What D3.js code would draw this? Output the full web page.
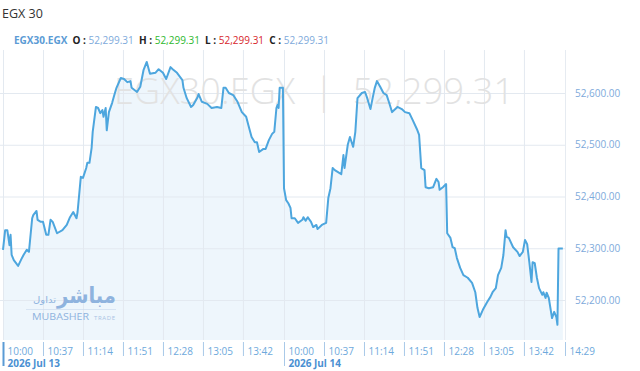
<!DOCTYPE html>
<html>
<head>
<meta charset="utf-8">
<script src="https://cdn.jsdelivr.net/npm/d3@7"></script>
<style>
  html, body { margin: 0; padding: 0; background: #fff; }
  svg { display: block; font-family: "Open Sans", "Noto Sans", sans-serif; }
</style>
</head>
<body>
<svg id="chart" width="640" height="371"></svg>
<script>
// index chart EGX30 - two sessions, x is a session slot (minute index), 260 slots per day
const symbol = 'EGX30.EGX';
const title = 'EGX 30';
const lastValue = 52299.31;
const dayLabels = ['2026 Jul 13', '2026 Jul 14'];
const timeLabels = ['10:00', '10:37', '11:14', '11:51', '12:28', '13:05', '13:42'];
const timeSlots = [0, 37, 74, 111, 148, 185, 222];
const endLabel = '14:29';
const slotsPerDay = 260;
const yTicks = [52200, 52300, 52400, 52500, 52600];

const day1Slots = [0, 2, 4, 6, 7, 8, 10, 14, 17, 19, 22, 24, 27, 28, 31, 32, 35, 37, 40, 42, 44, 46, 50, 55, 59, 62, 65, 68, 69, 72, 74, 77, 78, 80, 82, 83, 86, 88, 90, 92, 93, 95, 96, 98, 101, 103, 105, 109, 112, 115, 118, 119, 124, 127, 130, 133, 136, 141, 144, 148, 151, 155, 157, 161, 166, 167, 170, 174, 176, 180, 181, 184, 189, 193, 198, 202, 204, 206, 209, 213, 217, 221, 225, 227, 230, 233, 235, 237, 241, 243, 246, 249, 251, 253, 254, 255, 256, 259];
const day1Values = [52297, 52335, 52335, 52306, 52326, 52287, 52277, 52266, 52279, 52287, 52297, 52293, 52358, 52364, 52372, 52355, 52351, 52351, 52326, 52326, 52355, 52351, 52329, 52335, 52345, 52360, 52370, 52358, 52370, 52438, 52436, 52455, 52465, 52465, 52494, 52525, 52573, 52571, 52561, 52567, 52554, 52571, 52528, 52563, 52581, 52596, 52610, 52629, 52627, 52621, 52623, 52610, 52602, 52612, 52644, 52660, 52637, 52639, 52646, 52639, 52627, 52650, 52646, 52639, 52625, 52610, 52590, 52573, 52577, 52592, 52598, 52583, 52579, 52571, 52573, 52571, 52610, 52610, 52600, 52596, 52583, 52563, 52554, 52538, 52515, 52505, 52505, 52486, 52492, 52492, 52509, 52521, 52525, 52571, 52577, 52571, 52610, 52610];

const day2Slots = [0, 2, 4, 6, 7, 10, 13, 17, 18, 20, 22, 25, 27, 30, 31, 35, 39, 41, 43, 45, 47, 50, 53, 55, 56, 59, 61, 64, 66, 68, 72, 75, 77, 80, 82, 84, 86, 89, 92, 95, 97, 100, 102, 105, 109, 112, 116, 119, 123, 125, 127, 130, 131, 134, 138, 141, 143, 144, 147, 150, 151, 154, 156, 158, 160, 163, 166, 170, 174, 177, 179, 181, 184, 188, 191, 193, 196, 198, 201, 203, 205, 206, 208, 212, 216, 218, 221, 223, 225, 227, 229, 230, 232, 234, 236, 239, 240, 242, 243, 245, 248, 250, 252, 253, 254, 258];
const day2Values = [52416, 52393, 52387, 52378, 52358, 52358, 52349, 52355, 52360, 52353, 52360, 52351, 52341, 52345, 52337, 52345, 52349, 52397, 52416, 52455, 52451, 52447, 52443, 52480, 52455, 52500, 52515, 52496, 52525, 52590, 52600, 52602, 52590, 52569, 52590, 52610, 52623, 52612, 52600, 52596, 52583, 52563, 52567, 52573, 52569, 52563, 52561, 52548, 52530, 52519, 52455, 52451, 52418, 52416, 52418, 52434, 52428, 52413, 52418, 52424, 52329, 52320, 52302, 52300, 52281, 52262, 52248, 52243, 52233, 52215, 52185, 52167, 52181, 52196, 52206, 52215, 52223, 52248, 52262, 52287, 52335, 52322, 52320, 52302, 52293, 52285, 52293, 52316, 52308, 52273, 52235, 52273, 52271, 52243, 52223, 52210, 52215, 52204, 52214, 52204, 52165, 52177, 52167, 52152, 52299.31, 52299.31];

const points = [
  ...day1Slots.map((s, i) => ({ slot: s, value: day1Values[i] })),
  ...day2Slots.map((s, i) => ({ slot: slotsPerDay + s, value: day2Values[i] })),
];

const plot = { left: 3, right: 565, top: 50, bottom: 340 };

const svg = d3.select('#chart');
const fmt = d3.format(',.2f');

const xScale = d3.scaleLinear().domain([0, slotsPerDay * 2]).range([plot.left, plot.right]);
const yScale = d3.scaleLinear().domain([52200, 52600]).range([300, 93]);

// area fill
const area = d3.area()
  .x((d) => xScale(d.slot))
  .y0(plot.bottom)
  .y1((d) => yScale(d.value));
svg.append('path').datum(points)
  .attr('d', area)
  .attr('fill', '#eef6fc');

// tick slots over both days
const allTicks = [];
dayLabels.forEach((day, di) => {
  timeSlots.forEach((s, i) => {
    allTicks.push({ slot: di * slotsPerDay + s, label: timeLabels[i], day: i === 0 ? day : null });
  });
});
allTicks.push({ slot: slotsPerDay * 2, label: endLabel, day: null });

// vertical gridlines
svg.append('g')
  .selectAll('line')
  .data(allTicks)
  .join('line')
  .attr('x1', (d) => xScale(d.slot) + 0.5)
  .attr('x2', (d) => xScale(d.slot) + 0.5)
  .attr('y1', plot.top)
  .attr('y2', plot.bottom)
  .attr('stroke', '#e3e9f0')
  .attr('stroke-width', 1);

// horizontal gridlines
svg.append('g')
  .attr('transform', `translate(${plot.right}, 0)`)
  .call(d3.axisLeft(yScale).tickValues(yTicks).tickFormat('').tickSize(plot.right))
  .call((g) => g.select('.domain').remove())
  .call((g) => g.selectAll('line').attr('stroke', '#e3e9f0'));

// watermark
svg.append('text')
  .attr('x', 314)
  .attr('y', 104)
  .attr('text-anchor', 'middle')
  .attr('font-size', 36)
  .attr('font-weight', 300)
  .attr('fill', '#e2e2e2')
  .attr('textLength', 400)
  .attr('lengthAdjust', 'spacing')
  .style('white-space', 'pre')
  .text(`${symbol}  |  ${fmt(lastValue)}`);

// logo
const logo = svg.append('g').attr('fill', '#8fb3de');
logo.append('text')
  .attr('x', 57).attr('y', 303)
  .attr('font-family', 'DejaVu Sans, sans-serif')
  .attr('font-size', 22)
  .attr('font-weight', 'bold')
  .attr('textLength', 59)
  .attr('lengthAdjust', 'spacingAndGlyphs')
  .text('مباشر');
logo.append('text')
  .attr('x', 33).attr('y', 303)
  .attr('font-family', 'DejaVu Sans, sans-serif')
  .attr('font-size', 9)
  .attr('textLength', 23)
  .attr('lengthAdjust', 'spacingAndGlyphs')
  .text('تداول');
logo.append('line')
  .attr('x1', 26).attr('x2', 116).attr('y1', 309.5).attr('y2', 309.5)
  .attr('stroke', '#c8d8ec').attr('stroke-width', 0.6);
logo.append('text')
  .attr('x', 32).attr('y', 320)
  .attr('font-size', 8.5)
  .attr('textLength', 57)
  .attr('lengthAdjust', 'spacingAndGlyphs')
  .text('MUBASHER');
logo.append('text')
  .attr('x', 94).attr('y', 320)
  .attr('font-size', 6)
  .attr('fill', '#a9c3e4')
  .attr('textLength', 21)
  .text('TRADE');

// price line
const line = d3.line()
  .x((d) => xScale(d.slot))
  .y((d) => yScale(d.value));
svg.append('path').datum(points)
  .attr('d', line)
  .attr('fill', 'none')
  .attr('stroke', '#4da6de')
  .attr('stroke-width', 2)
  .attr('stroke-linejoin', 'round');

// right edge line
svg.append('line')
  .attr('x1', plot.right + 0.5).attr('x2', plot.right + 0.5)
  .attr('y1', plot.top).attr('y2', plot.bottom)
  .attr('stroke', '#e6ebf1');

// y axis labels
svg.append('g')
  .attr('transform', `translate(${plot.right}, 0)`)
  .call(d3.axisRight(yScale).tickValues(yTicks).tickFormat(fmt).tickSize(0).tickPadding(10))
  .call((g) => g.select('.domain').remove())
  .call((g) => g.selectAll('text')
    .attr('fill', '#7eaadb')
    .attr('font-size', 10)
    .attr('font-family', '"Open Sans", sans-serif'));

// x axis
const xAxis = svg.append('g')
  .attr('transform', `translate(0, ${plot.bottom + 2})`)
  .call(d3.axisBottom(xScale)
    .tickValues(allTicks.map((d) => d.slot))
    .tickFormat((s) => allTicks.find((t) => t.slot === s).label)
    .tickSize(14));
xAxis.select('.domain').remove();
xAxis.attr('text-anchor', 'start');
xAxis.selectAll('.tick')
  .each(function (s) {
    const t = allTicks.find((d) => d.slot === s);
    const g = d3.select(this);
    g.select('line')
      .attr('stroke', '#a9c9e8')
      .attr('y2', t.day ? 24 : 14);
    g.select('text')
      .attr('text-anchor', 'start')
      .attr('x', 4)
      .attr('y', 13)
      .attr('dy', 0)
      .attr('fill', '#6ea9dc')
      .attr('font-size', 10)
      .attr('font-family', '"Open Sans", sans-serif');
    if (t.day) {
      g.append('text')
        .attr('text-anchor', 'start')
        .attr('x', 4)
        .attr('y', 25)
        .attr('fill', '#4a90d2')
        .attr('font-size', 10)
        .attr('font-weight', 'bold')
        .attr('font-family', '"Open Sans", sans-serif')
        .text(t.day);
    }
  });
// first day marker is heavier
xAxis.select('.tick line').attr('stroke', '#5b9bd5').attr('stroke-width', 2);

// header
svg.append('text')
  .attr('x', 2).attr('y', 18)
  .attr('font-size', 12.5)
  .attr('fill', '#333')
  .text(title);

const legend = svg.append('text')
  .attr('x', 14).attr('y', 44)
  .attr('font-size', 10)
  .style('white-space', 'pre');
const parts = [
  { t: symbol, c: '#5b9bd5', b: true },
  { t: '  O : ', c: '#222', b: true },
  { t: fmt(lastValue), c: '#7eaadb' },
  { t: '  H : ', c: '#222', b: true },
  { t: fmt(lastValue), c: '#2eb82e' },
  { t: '  L : ', c: '#222', b: true },
  { t: fmt(lastValue), c: '#d7262b' },
  { t: '  C : ', c: '#222', b: true },
  { t: fmt(lastValue), c: '#7eaadb' },
];
parts.forEach((p) => {
  legend.append('tspan')
    .attr('fill', p.c)
    .attr('font-weight', p.b ? 'bold' : 'normal')
    .text(p.t);
});
</script>
</body>
</html>
